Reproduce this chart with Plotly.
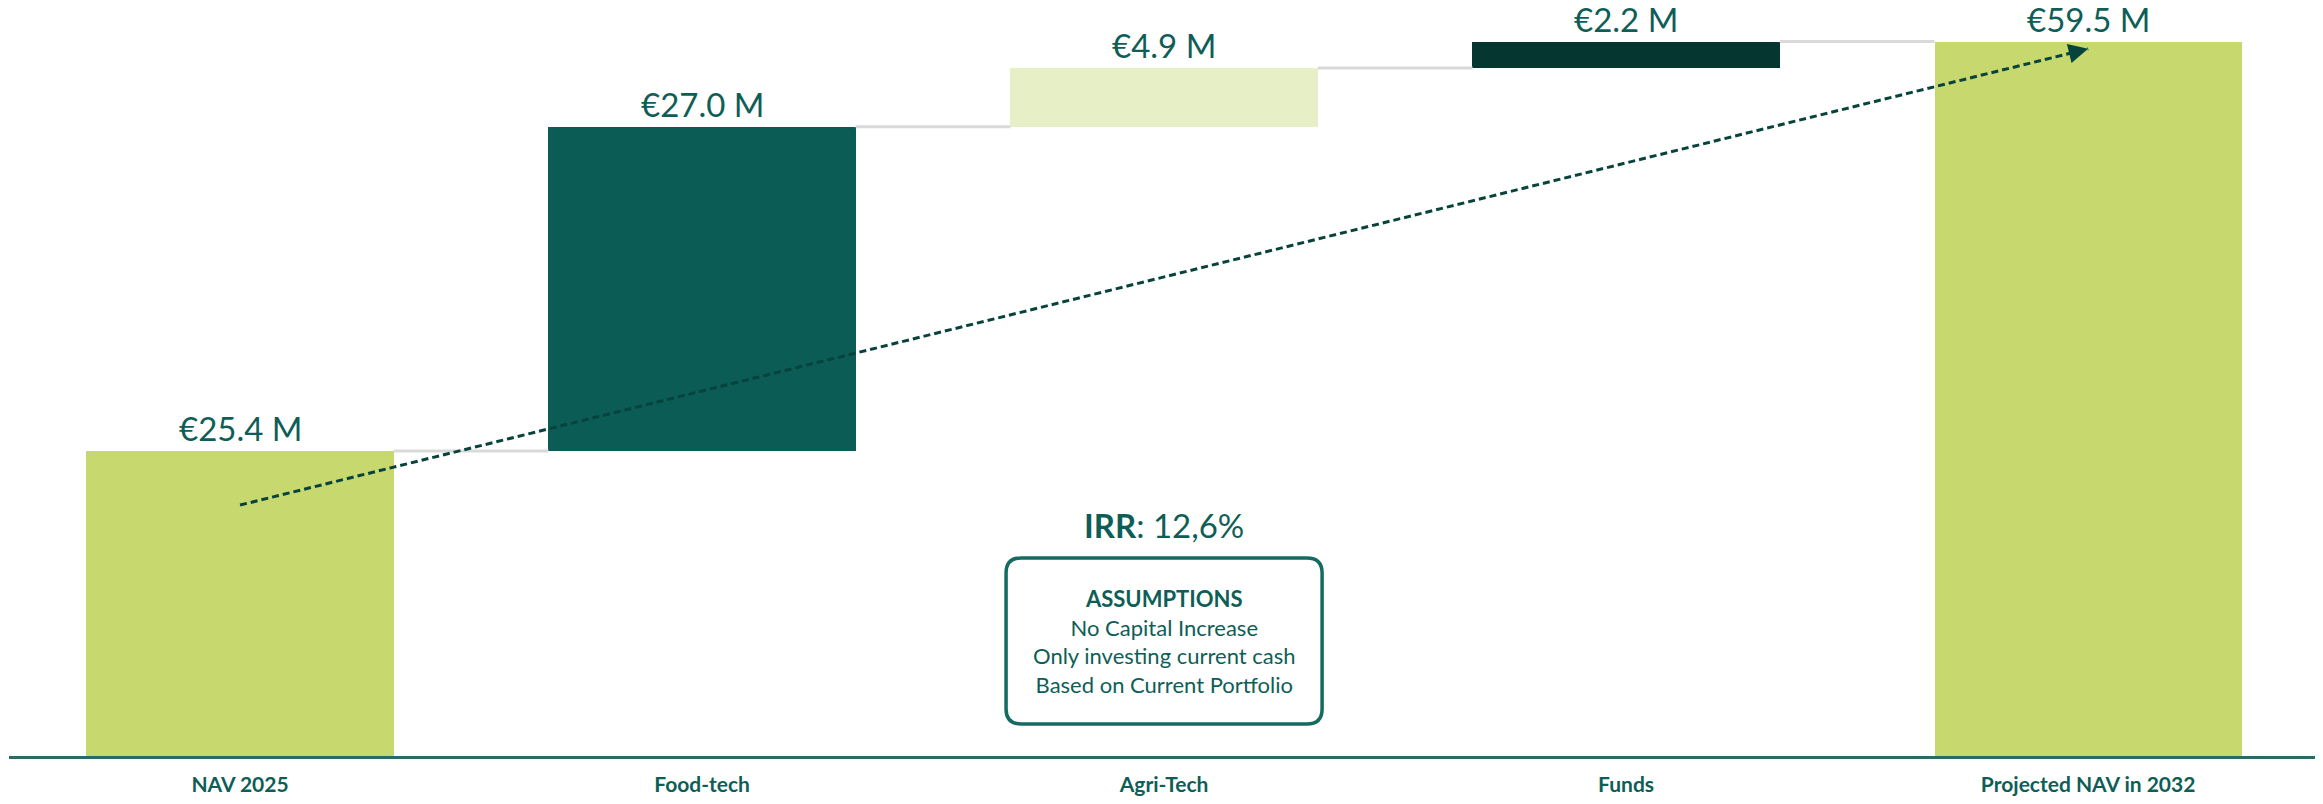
"""Waterfall bridge: NAV 2025 to projected NAV in 2032."""
import plotly.graph_objects as go

CATEGORIES = ["NAV 2025", "Food-tech", "Agri-Tech", "Funds", "Projected NAV in 2032"]
VALUES = [25.4, 27.0, 4.9, 2.2, 59.5]
MEASURES = ["absolute", "relative", "relative", "relative", "total"]
LABELS = ["€25.4 M", "€27.0 M", "€4.9 M", "€2.2 M", "€59.5 M"]
BAR_COLORS = ["#C6D86E", "#0A5C55", "#E6EFC6", "#053730", "#C6D86E"]

IRR_TEXT = "<b>IRR</b>: 12,6%"
ASSUMPTIONS = ["<b>ASSUMPTIONS</b>", "No Capital Increase",
               "Only investing current cash", "Based on Current Portfolio"]
TREND = (20.9, 58.9)  # dashed growth arrow: start / end level

TEXT = "#0E5E57"
FONT = "Lato, 'Open Sans', sans-serif"
BAR_W = 0.665

# floating bars: base + height from the running total
bases, heights, tops = [], [], []
running = 0.0
for v, m in zip(VALUES, MEASURES):
    if m == "relative":
        bases.append(running)
        heights.append(v)
        running += v
    else:
        bases.append(0)
        heights.append(v)
        running = v
    tops.append(running)

x = list(range(len(CATEGORIES)))

fig = go.Figure()

# connectors between consecutive bars
cx, cy = [], []
for i in range(len(x) - 1):
    cx += [x[i] + BAR_W / 2, x[i + 1] - BAR_W / 2, None]
    cy += [tops[i], tops[i], None]
fig.add_trace(go.Scatter(x=cx, y=cy, mode="lines",
                         line=dict(color="#D9D9D9", width=3),
                         hoverinfo="skip", showlegend=False))

fig.add_trace(go.Bar(x=x, y=heights, base=bases, width=BAR_W,
                     marker=dict(color=BAR_COLORS, line=dict(width=0)),
                     hovertemplate="%{customdata}<extra></extra>",
                     customdata=LABELS, showlegend=False))

# dashed trend line
fig.add_trace(go.Scatter(x=[x[0], x[-1]], y=list(TREND), mode="lines",
                         line=dict(color="#07433C", width=3, dash="7px,4px"),
                         hoverinfo="skip", showlegend=False))

for xi, top, lab in zip(x, tops, LABELS):
    fig.add_annotation(x=xi, y=top, text=lab, showarrow=False,
                       yanchor="bottom", yshift=1,
                       font=dict(size=33, color=TEXT, family=FONT))

# arrow head at the end of the trend line
fig.add_annotation(x=x[-1], y=TREND[1], ax=-15.5, ay=3.8, text="",
                   showarrow=True, arrowhead=2, arrowsize=1.3, arrowwidth=3,
                   arrowcolor="#07433C", standoff=0)

fig.add_annotation(x=2, y=19.25, text=IRR_TEXT, showarrow=False,
                   font=dict(size=33, color=TEXT, family=FONT))
fig.add_annotation(x=2, y=9.55, text="<br>".join(ASSUMPTIONS), showarrow=False,
                   font=dict(size=22, color=TEXT, family=FONT))

# rounded assumptions box
x0, x1, y0, y1 = 2 - 0.342, 2 + 0.342, 2.67, 16.5
rx, ry = 0.033, 1.25
path = (f"M {x0+rx},{y1} L {x1-rx},{y1} Q {x1},{y1} {x1},{y1-ry} "
        f"L {x1},{y0+ry} Q {x1},{y0} {x1-rx},{y0} L {x0+rx},{y0} "
        f"Q {x0},{y0} {x0},{y0+ry} L {x0},{y1-ry} Q {x0},{y1} {x0+rx},{y1} Z")
fig.add_shape(type="path", path=path, xref="x", yref="y",
              line=dict(color="#156B62", width=3.5))

fig.update_layout(
    paper_bgcolor="white", plot_bgcolor="white",
    margin=dict(l=1, r=0, t=0, b=33),
    font=dict(family=FONT, color=TEXT),
    bargap=0,
)
fig.update_xaxes(range=[-0.5, 4.491], tickvals=x, ticktext=[f"<b>{c}</b>" for c in CATEGORIES],
                 tickfont=dict(size=21, color=TEXT, family=FONT),
                 showgrid=False, zeroline=False, showline=True,
                 linecolor="#2A6B66", linewidth=3, ticks="", ticklabelstandoff=8)
fig.update_yaxes(range=[0, 62.3], visible=False, showgrid=False, zeroline=False)

fig.write_html("out.html")
